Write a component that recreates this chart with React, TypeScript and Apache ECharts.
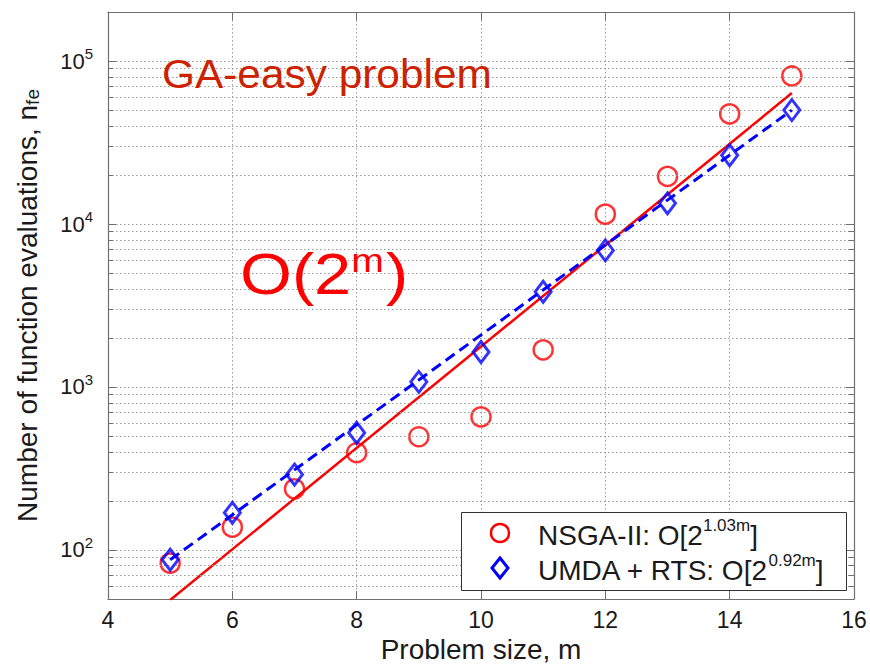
import React, { useEffect, useRef } from 'react';
import * as echarts from 'echarts';

// Problem sizes (m)
const problemSizes = [5, 6, 7, 8, 9, 10, 11, 12, 13, 14, 15];
// NSGA-II measured function evaluations
const nsgaValues = [83, 138, 237, 395, 495, 655, 1690, 11500, 19600, 47400, 81000];
// UMDA + RTS measured function evaluations
const umdaValues = [87, 169, 290, 524, 1075, 1640, 3840, 6890, 13400, 26400, 50000];
// Fit lines (endpoints)
const nsgaFitX = [5, 15];
const nsgaFitY = [49.3, 63600];
const umdaFitX = [5, 15];
const umdaFitY = [87, 50000];
// Axis structure
const xTicks = { min: 4, max: 16, interval: 2 };
const yRange = { min: 50, max: 200000 };
const minorTickValues = [
  60, 70, 80, 90,
  200, 300, 400, 500, 600, 700, 800, 900,
  2000, 3000, 4000, 5000, 6000, 7000, 8000, 9000,
  20000, 30000, 40000, 50000, 60000, 70000, 80000, 90000,
];
const legendNames = ['NSGA-II', 'UMDA + RTS'];
const legendExponents = ['1.03m', '0.92m'];

export default function App() {
  const ref = useRef<HTMLDivElement>(null);
  useEffect(() => {
    const chart = echarts.init(ref.current!, null, { renderer: 'svg' });
    const font = 'Liberation Sans, Arial, sans-serif';
    const gridColor = '#9a9a9a';
    const axisColor = '#707070';
    const textColor = '#1a1a1a';
    const dotted = { color: gridColor, width: 1, type: [1.5, 2.5] as any };

    const minorGrid = minorTickValues.map((v) => ({ yAxis: v }));
    const minorTicksL = minorTickValues.map((v) => [
      { coord: [xTicks.min, v] },
      { coord: [xTicks.min + 0.085, v] },
    ]);
    const minorTicksR = minorTickValues.map((v) => [
      { coord: [xTicks.max - 0.085, v] },
      { coord: [xTicks.max, v] },
    ]);

    const logAxisBase = {
      type: 'log',
      logBase: 10,
      min: yRange.min,
      max: yRange.max,
    };

    const legendRich = {
      a: { fontSize: 28, fontFamily: font, fill: textColor, lineHeight: 36 },
      s: { fontSize: 17, fontFamily: font, fill: textColor, verticalAlign: 'top', lineHeight: 17 },
    };

    chart.setOption({
      animation: false,
      backgroundColor: '#ffffff',
      grid: { left: 108, right: 16, top: 12, bottom: 68, show: false, outerBoundsMode: 'none', containLabel: false },
      xAxis: [
        {
          type: 'value',
          min: xTicks.min,
          max: xTicks.max,
          interval: xTicks.interval,
          name: 'Problem size, m',
          nameLocation: 'middle',
          nameGap: 34,
          nameTextStyle: { fontSize: 28, fontFamily: font, color: textColor },
          axisLine: { show: true, onZero: false, lineStyle: { color: axisColor, width: 1.2 } },
          axisTick: { show: true, inside: true, length: 8, lineStyle: { color: axisColor } },
          axisLabel: { fontSize: 23, fontFamily: font, color: textColor, margin: 9 },
          splitLine: { show: true, lineStyle: dotted },
        },
        {
          type: 'value',
          position: 'top',
          min: xTicks.min,
          max: xTicks.max,
          interval: xTicks.interval,
          axisLine: { show: true, onZero: false, lineStyle: { color: axisColor, width: 1.2 } },
          axisTick: { show: true, inside: true, length: 8, lineStyle: { color: axisColor } },
          axisLabel: { show: false },
          splitLine: { show: false },
        },
      ],
      yAxis: [
        {
          ...logAxisBase,
          name: 'Number of function evaluations, {b|n}{sub|fe}',
          nameLocation: 'middle',
          nameGap: 66,
          nameTextStyle: {
            fontSize: 28,
            fontFamily: font,
            color: textColor,
            rich: {
              b: { fontSize: 28, fontFamily: font, color: textColor },
              sub: { fontSize: 19, fontFamily: font, color: textColor, verticalAlign: 'bottom', padding: [10, 0, 0, 0] },
            },
          },
          axisLine: { show: true, onZero: false, lineStyle: { color: axisColor, width: 1.2 } },
          axisTick: { show: true, inside: true, length: 8, lineStyle: { color: axisColor } },
          axisLabel: {
            showMinLabel: false,
            showMaxLabel: false,
            margin: 15,
            formatter: (v: number) => {
              const e = Math.round(Math.log10(v));
              if (Math.abs(Math.log10(v) - e) > 1e-6) return '';
              return '{b|10}{s|' + e + '}';
            },
            rich: {
              b: { fontSize: 22, fontFamily: font, color: textColor, lineHeight: 30 },
              s: { fontSize: 15, fontFamily: font, color: textColor, verticalAlign: 'top', lineHeight: 15 },
            },
          },
          splitLine: { show: true, lineStyle: dotted },
        },
        {
          ...logAxisBase,
          position: 'right',
          axisLine: { show: true, onZero: false, lineStyle: { color: axisColor, width: 1.2 } },
          axisTick: { show: true, inside: true, length: 8, lineStyle: { color: axisColor } },
          axisLabel: { show: false },
          splitLine: { show: false },
        },
      ],
      series: [
        {
          type: 'line',
          data: [],
          z: 1,
          silent: true,
          markLine: {
            silent: true,
            symbol: ['none', 'none'],
            label: { show: false },
            lineStyle: dotted,
            emphasis: { disabled: true },
            data: [...minorGrid],
          },
        },
        {
          type: 'line',
          data: [],
          z: 1,
          silent: true,
          markLine: {
            silent: true,
            symbol: ['none', 'none'],
            label: { show: false },
            lineStyle: { color: axisColor, width: 1, type: 'solid' },
            emphasis: { disabled: true },
            data: [...minorTicksL, ...minorTicksR],
          },
        },
        {
          name: 'NSGA-II',
          type: 'scatter',
          data: problemSizes.map((x, i) => [x, nsgaValues[i]]),
          symbol: 'circle',
          symbolSize: 19,
          itemStyle: { color: 'rgba(255,255,255,0)', borderColor: '#ff0000', borderWidth: 2.5 },
          z: 3,
        },
        {
          type: 'line',
          data: nsgaFitX.map((x, i) => [x, nsgaFitY[i]]),
          symbol: 'none',
          clip: true,
          lineStyle: { color: '#ff0000', width: 2.5, type: 'solid' },
          z: 4,
        },
        {
          name: 'UMDA + RTS',
          type: 'scatter',
          data: problemSizes.map((x, i) => [x, umdaValues[i]]),
          symbol: 'diamond',
          symbolSize: [16, 21],
          itemStyle: { color: 'rgba(255,255,255,0)', borderColor: '#0000ff', borderWidth: 3 },
          z: 5,
        },
        {
          type: 'line',
          data: umdaFitX.map((x, i) => [x, umdaFitY[i]]),
          symbol: 'none',
          clip: true,
          lineStyle: { color: '#0000ff', width: 3, type: [11, 6] },
          z: 6,
        },
      ],
      graphic: [
        {
          type: 'text',
          x: 162,
          y: 74,
          scaleX: 1.06,
          style: { text: 'GA-easy problem', fontSize: 40, fontFamily: font, fill: '#cc2200', verticalAlign: 'middle' },
          z: 10,
        },
        {
          type: 'text',
          x: 240,
          y: 274,
          scaleX: 1.15,
          style: {
            text: '{a|O(2}{s|m}{a|)}',
            fontFamily: font,
            fill: '#ff0000',
            verticalAlign: 'middle',
            rich: {
              a: { fontSize: 58, fontFamily: font, fill: '#ff0000', lineHeight: 62 },
              s: { fontSize: 34, fontFamily: font, fill: '#ff0000', verticalAlign: 'top', lineHeight: 34, padding: [0, 2, 0, 0] },
            },
          },
          z: 10,
        },
        // Legend box
        {
          type: 'rect',
          shape: { x: 461.5, y: 512.5, width: 385, height: 78 },
          style: { fill: '#ffffff', stroke: '#333333', lineWidth: 1 },
          z: 20,
        },
        {
          type: 'circle',
          shape: { cx: 500, cy: 533, r: 9 },
          style: { fill: 'none', stroke: '#ff0000', lineWidth: 2.5 },
          z: 21,
        },
        {
          type: 'polygon',
          shape: { points: [[500, 558], [508, 568], [500, 578], [492, 568]] },
          style: { fill: 'none', stroke: '#0000ff', lineWidth: 3 },
          z: 21,
        },
        {
          type: 'text',
          x: 538,
          y: 535,
          style: {
            text: '{a|' + legendNames[0] + ': O[2}{s|' + legendExponents[0] + '}{a|]}',
            verticalAlign: 'middle',
            rich: legendRich,
          },
          z: 21,
        },
        {
          type: 'text',
          x: 538,
          y: 570,
          style: {
            text: '{a|' + legendNames[1] + ': O[2}{s|' + legendExponents[1] + '}{a|]}',
            verticalAlign: 'middle',
            rich: legendRich,
          },
          z: 21,
        },
      ],
    });
    return () => chart.dispose();
  }, []);
  return <div ref={ref} style={{ position: 'fixed', left: 0, top: 0, width: 870, height: 667 }} />;
}
